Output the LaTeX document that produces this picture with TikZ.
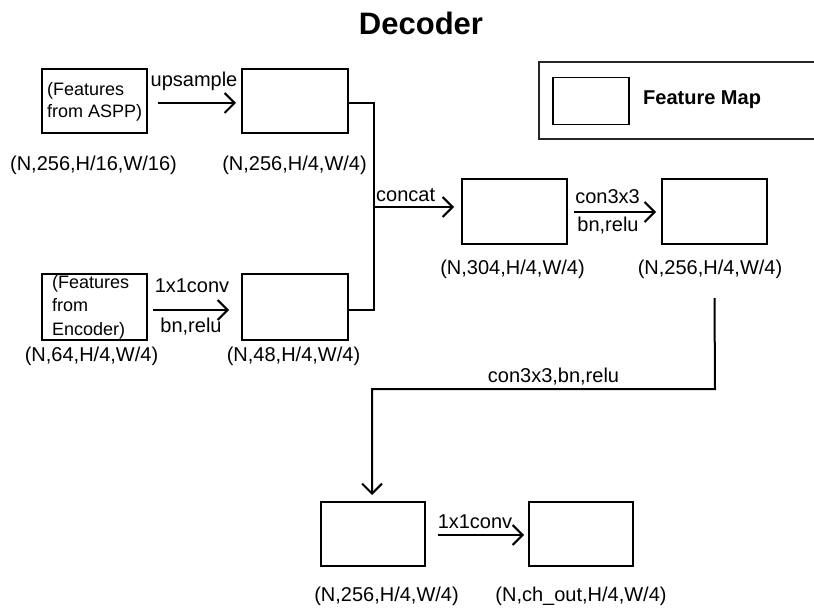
\documentclass[tikz,border=0pt]{standalone}
\usepackage{fontspec}
\setmainfont{Liberation Sans}
\usetikzlibrary{arrows.meta}
\begin{document}
\begin{tikzpicture}[x=1pt,y=-1pt,
  fmap/.style={draw=black, line width=2pt, inner sep=0pt, minimum width=105pt, minimum height=64pt},
  conn/.style={draw=black, line width=2pt},
  arr/.style={conn, -{Straight Barb[length=10pt,width=20pt]}},
  lbl/.style={font=\fontsize{20}{24}\selectfont, inner sep=0pt, anchor=base},
  lbll/.style={lbl, anchor=base west},
  boxtxt/.style={font=\fontsize{18}{22}\selectfont, inner sep=0pt, anchor=base west},
]
\useasboundingbox (0,0) rectangle (814,612);

% title
\node[font=\fontsize{31}{36}\selectfont\bfseries, inner sep=0pt, anchor=base] (title) at (421,35) {Decoder};

% legend
\draw[line width=1.5pt, draw=black!85] (539,62) rectangle (830,139);
\node[fmap, minimum width=76pt, minimum height=47pt, line width=1.5pt] (leg) at (591,101) {};
\node[font=\fontsize{20}{24}\selectfont\bfseries, inner sep=0pt, anchor=base west] (legtxt) at (643,105) {Feature Map};

% boxes
\node[fmap] (A) at (94.5,101) {};
\node[fmap, minimum width=106pt] (B) at (295,101) {};
\node[fmap, minimum height=66pt] (C) at (94.5,307) {};
\node[fmap, minimum width=106pt, minimum height=66pt] (D) at (295,307) {};
\node[fmap, minimum height=65pt] (E) at (514.5,211.5) {};
\node[fmap, minimum height=65pt] (F) at (714.5,211.5) {};
\node[fmap, minimum width=104pt] (G) at (373,534) {};
\node[fmap, minimum width=104pt] (H) at (581,534) {};

% box texts
\node[boxtxt] (a1) at (47,96) {(Features};
\node[boxtxt] (a2) at (47,118) {from ASPP)};
\node[boxtxt] (c1) at (52,289) {(Features};
\node[boxtxt] (c2) at (52,312) {from};
\node[boxtxt] (c3) at (52,335) {Encoder)};

% shape labels
\node[lbl] (sA) at (93.5,171) {(N,256,H/16,W/16)};
\node[lbl] (sB) at (294.5,171) {(N,256,H/4,W/4)};
\node[lbl] (sC) at (91.5,361) {(N,64,H/4,W/4)};
\node[lbl] (sD) at (293.5,361) {(N,48,H/4,W/4)};
\node[lbl] (sE) at (512.5,275) {(N,304,H/4,W/4)};
\node[lbl] (sF) at (710,275) {(N,256,H/4,W/4)};
\node[lbl] (sG) at (386.5,601) {(N,256,H/4,W/4)};
\node[lbl] (sH) at (581,601) {(N,ch\_out,H/4,W/4)};

% coordinates
\coordinate (u) at (0,103);
\coordinate (m) at (0,310);
\coordinate (j1) at (374,103);
\coordinate (j2) at (374,310);
\coordinate (j3) at (374,207);
\coordinate (k) at (0,212);
\coordinate (f1) at ([yshift=-53pt]F.south);
\coordinate (f2) at (715,389);
\coordinate (g1) at (372,389);
\coordinate (b) at (0,535);

% connectors
\draw[arr, shorten <=10pt, shorten >=5pt] (A.east |- u) -- (B.west |- u);
\draw[arr, shorten <=5pt, shorten >=12pt] (C.east |- m) -- (D.west |- m);
\draw[conn] (B.east |- u) -- (j1) -- (j2) -- (D.east |- m);
\draw[arr, shorten >=7pt] (j3) -- (E.west |- j3);
\draw[arr, shorten <=6pt, shorten >=5pt] (E.east |- k) -- (F.west |- k);
\draw[arr, shorten >=6pt] (f1) -- (f2) -- (g1) -- (g1 |- G.north);
\draw[arr, shorten <=12pt, shorten >=4pt] (G.east |- b) -- (H.west |- b);

% connector labels
\node[lbl] (up) at (194,87) {upsample};
\node[lbl] (cv1) at (192,293) {1x1conv};
\node[lbl] (br1) at (191,333) {bn,relu};
\node[lbll] (cc) at (376,202) {concat};
\node[lbl] (cv2) at (607.5,204) {con3x3};
\node[lbl] (br2) at (608,232) {bn,relu};
\node[lbl] (cv3) at (553.5,382) {con3x3,bn,relu};
\node[lbl] (cv4) at (475,528) {1x1conv};
\end{tikzpicture}
\end{document}
